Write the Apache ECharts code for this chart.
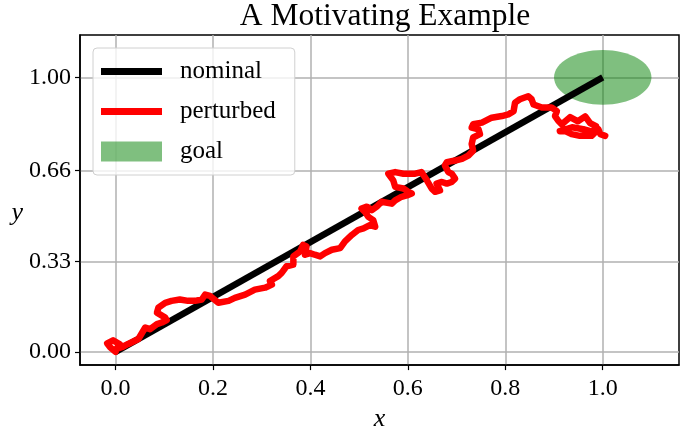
<!DOCTYPE html>
<html>
<head>
<meta charset="utf-8">
<script src="https://cdn.jsdelivr.net/npm/echarts@6/dist/echarts.min.js"></script>
<style>
  html, body { margin: 0; padding: 0; background: #fff; }
  #chart { width: 697px; height: 437px; }
</style>
</head>
<body>
<div id="chart"></div>
<script>
// nominal trajectory (straight line from start to goal)
var nominalX = [0, 1];
var nominalY = [0, 1];

// perturbed trajectory
var perturbedX = [0, -0.011, -0.017, -0.005, 0.009, 0.001, 0.013, 0.026, 0.047, 0.061,
  0.071, 0.085, 0.095, 0.105, 0.102, 0.085, 0.088, 0.102, 0.115, 0.132,
  0.149, 0.163, 0.177, 0.184, 0.194, 0.211, 0.232, 0.245, 0.266, 0.286,
  0.307, 0.321, 0.317, 0.334, 0.341, 0.351, 0.365, 0.365, 0.379, 0.385,
  0.392, 0.389, 0.399, 0.409, 0.420, 0.430, 0.444, 0.461, 0.471, 0.485,
  0.498, 0.509, 0.522, 0.533, 0.529, 0.519, 0.512, 0.505, 0.516, 0.526,
  0.536, 0.546, 0.567, 0.574, 0.587, 0.598, 0.608, 0.601, 0.591, 0.574,
  0.570, 0.560, 0.574, 0.591, 0.615, 0.628, 0.639, 0.649, 0.656, 0.666,
  0.659, 0.670, 0.680, 0.690, 0.697, 0.690, 0.683, 0.676, 0.680, 0.697,
  0.711, 0.724, 0.734, 0.731, 0.734, 0.748, 0.745, 0.731, 0.734, 0.752,
  0.772, 0.793, 0.806, 0.817, 0.820, 0.830, 0.847, 0.854, 0.858, 0.875,
  0.895, 0.906, 0.902, 0.909, 0.916, 0.933, 0.949, 0.964, 0.974, 0.986,
  0.980, 0.960, 0.937, 0.912, 0.922, 0.936, 0.953, 0.977, 0.991, 0.995, 1.005];
var perturbedY = [0, 0.017, 0.031, 0.042, 0.028, 0.010, 0.017, 0.029, 0.047, 0.089,
  0.083, 0.101, 0.107, 0.116, 0.125, 0.143, 0.161, 0.179, 0.186, 0.191,
  0.186, 0.186, 0.191, 0.209, 0.204, 0.179, 0.186, 0.197, 0.209, 0.227,
  0.234, 0.245, 0.258, 0.276, 0.288, 0.312, 0.318, 0.348, 0.366, 0.390,
  0.384, 0.354, 0.360, 0.354, 0.348, 0.360, 0.372, 0.378, 0.403, 0.426,
  0.444, 0.450, 0.462, 0.456, 0.480, 0.492, 0.510, 0.522, 0.529, 0.516,
  0.529, 0.547, 0.540, 0.552, 0.565, 0.570, 0.577, 0.583, 0.595, 0.601,
  0.625, 0.649, 0.655, 0.649, 0.649, 0.655, 0.625, 0.595, 0.583, 0.588,
  0.613, 0.619, 0.613, 0.619, 0.631, 0.649, 0.655, 0.679, 0.691, 0.697,
  0.703, 0.715, 0.733, 0.757, 0.781, 0.793, 0.811, 0.817, 0.829, 0.835,
  0.853, 0.859, 0.865, 0.877, 0.908, 0.920, 0.931, 0.920, 0.901, 0.890,
  0.890, 0.877, 0.859, 0.841, 0.829, 0.855, 0.840, 0.858, 0.833, 0.822,
  0.801, 0.811, 0.818, 0.804, 0.805, 0.793, 0.787, 0.787, 0.811, 0.793, 0.787];

// goal region: centre x, centre y, radius x, radius y
var goal = [1, 1, 0.1, 0.1];

// ticks
var xTicks = [0, 0.2, 0.4, 0.6, 0.8, 1.0];
var xTickLabels = ['0.0', '0.2', '0.4', '0.6', '0.8', '1.0'];
var yTicks = [0, 0.33, 0.66, 1.0];
var yTickLabels = ['0.00', '0.33', '0.66', '1.00'];

var FONT = 'Liberation Serif';
// thin bar in a 61x20 box, for the line legend entries
var LINE_ICON = 'path://M0,0M61,20M0,6.5L61,6.5L61,13.5L0,13.5Z';

function zip(xs, ys) {
  return xs.map(function (x, i) { return [x, ys[i]]; });
}
function tickLabel(ticks, labels) {
  return function (v) {
    for (var i = 0; i < ticks.length; i++) {
      if (Math.abs(ticks[i] - v) < 1e-6) return labels[i];
    }
    return '';
  };
}

var chart = echarts.init(document.getElementById('chart'));
chart.setOption({
  animation: false,
  backgroundColor: '#fff',
  title: {
    text: 'A Motivating Example',
    left: 380,
    top: -4,
    textAlign: 'center',
    textStyle: { fontFamily: FONT, fontSize: 31.5, fontWeight: 'normal', color: '#000' }
  },
  grid: {
    left: 80, top: 35, width: 599, height: 333,
    show: true,
    borderColor: '#000',
    borderWidth: 1.5,
    backgroundColor: 'transparent'
  },
  legend: {
    orient: 'vertical',
    left: 93,
    top: 48,
    padding: [11, 19, 11, 8],
    itemGap: 15,
    itemWidth: 61,
    itemHeight: 20,
    backgroundColor: 'rgba(255,255,255,0.8)',
    borderColor: '#d0d0d0',
    borderWidth: 1,
    borderRadius: 4,
    textStyle: { fontFamily: FONT, fontSize: 25, color: '#000', padding: [0, 0, 0, 13] },
    data: [
      { name: 'nominal', icon: LINE_ICON, itemStyle: { color: '#000' } },
      { name: 'perturbed', icon: LINE_ICON, itemStyle: { color: '#ff0000' } },
      { name: 'goal', icon: 'rect' }
    ]
  },
  xAxis: {
    type: 'value',
    min: -0.0729,
    max: 1.1565,
    name: 'x',
    nameLocation: 'middle',
    nameGap: 40,
    nameTextStyle: { fontFamily: FONT, fontStyle: 'italic', fontSize: 26, color: '#000' },
    axisLine: { show: true, onZero: false, lineStyle: { color: '#000', width: 1.5 } },
    axisTick: { show: true, length: 5, customValues: xTicks, lineStyle: { color: '#000', width: 1.2 } },
    axisLabel: {
      customValues: xTicks,
      formatter: tickLabel(xTicks, xTickLabels),
      margin: 12,
      fontFamily: FONT, fontSize: 24, color: '#000'
    },
    splitLine: { show: true, lineStyle: { color: '#b0b0b0', width: 1.5 } }
  },
  yAxis: {
    type: 'value',
    min: -0.048,
    max: 1.1542,
    name: 'y',
    nameLocation: 'middle',
    nameRotate: 0,
    nameGap: 53,
    nameTextStyle: { fontFamily: FONT, fontStyle: 'italic', fontSize: 26, color: '#000', verticalAlign: 'top' },
    axisLine: { show: true, onZero: false, lineStyle: { color: '#000', width: 1.5 } },
    axisTick: { show: true, length: 5, customValues: yTicks, lineStyle: { color: '#000', width: 1.2 } },
    axisLabel: {
      customValues: yTicks,
      formatter: tickLabel(yTicks, yTickLabels),
      margin: 9,
      fontFamily: FONT, fontSize: 24, color: '#000'
    },
    splitLine: { show: true, lineStyle: { color: '#b0b0b0', width: 1.5 } }
  },
  series: [
    {
      name: 'goal',
      type: 'custom',
      data: [goal],
      itemStyle: { color: 'rgba(0,128,0,0.5)' },
      renderItem: function (params, api) {
        var c = api.coord([api.value(0), api.value(1)]);
        var s = api.size([api.value(2), api.value(3)]);
        return {
          type: 'ellipse',
          shape: { cx: c[0], cy: c[1], rx: s[0], ry: s[1] },
          style: { fill: 'rgba(0,128,0,0.5)' }
        };
      },
      z: 1
    },
    {
      name: 'nominal',
      type: 'line',
      data: zip(nominalX, nominalY),
      symbol: 'none',
      color: '#000',
      lineStyle: { color: '#000', width: 6.5 },
      z: 2
    },
    {
      name: 'perturbed',
      type: 'line',
      data: zip(perturbedX, perturbedY),
      symbol: 'none',
      color: '#ff0000',
      lineStyle: { color: '#ff0000', width: 6.5, cap: 'round', join: 'round' },
      z: 3
    }
  ]
});
</script>
</body>
</html>
